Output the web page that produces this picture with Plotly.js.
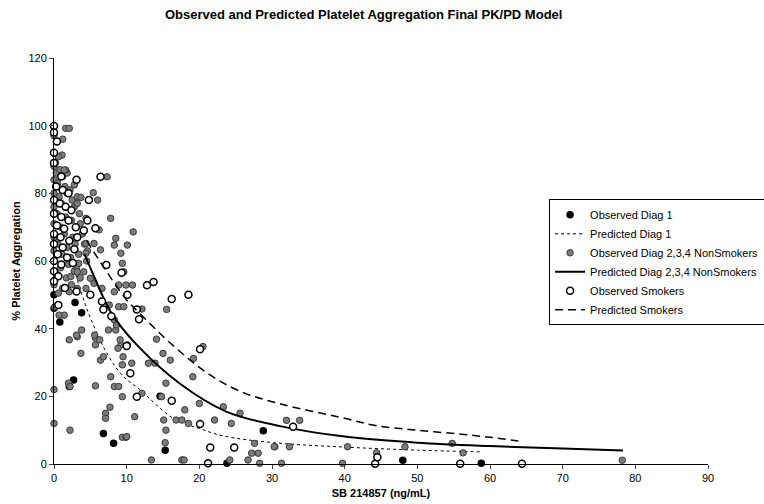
<!DOCTYPE html>
<html>
<head>
<meta charset="utf-8">
<script src="https://cdn.plot.ly/plotly-3.0.1.min.js"></script>
<style>html,body{margin:0;padding:0;background:#fff;}#chart{width:764px;height:504px;}</style>
</head>
<body>
<div id="chart"></div>
<script>
// Observed Diag 1 (black filled)
const diag1X = [0, 0, 0.8, 2.9, 3.8, 2.7, 2.1, 6.8, 8.2, 15.3, 14.6, 28.8, 23.8, 48, 58.8];
const diag1Y = [50, 46, 42, 47.7, 44.7, 24.8, 22.9, 9, 6.1, 4.1, 20, 9.8, 0.2, 1.1, 0.2];

// Predicted Diag 1 (dotted)
const predDiag1X = [3, 4.5, 7.2, 9.5, 11.8, 16.4, 20, 23.3, 30.2, 40, 50, 58.6];
const predDiag1Y = [56, 46, 33, 26, 22, 13.5, 10.5, 8.3, 6.3, 5.0, 4.1, 3.6];

// Observed Diag 2,3,4 NonSmokers (grey)
const nonsmX = [0,0.3,0.8,1.2,1.8,0,0.5,1.5,2.2,0,0.7,1.8,2.5,3.2,0,1,2.8,0.4,1.6,3.5,0,0.9,2.4,3.6,0,1.4,2.6,3.9,0.5,1.8,2.9,4.2,0,1.1,2.3,3.4,4.6,0,0.9,2,3.1,4.5,0.4,1.7,2.8,3.6,0,1.2,2.4,0.6,2.1,3.2,4.4,1.4,0.7,1.1,1.6,2.1,1.2,1.6,7.3,5.4,6,3.7,3.2,2.8,7.8,4.4,6.2,8.5,8.3,9.2,10.1,6.4,5.5,4.4,4.4,3.4,9.4,9.6,9.9,10.8,8.9,5,5.5,6.6,8.3,4.1,3.2,2.3,8.9,9.6,7.6,8.3,8.5,9.2,10.1,2.1,3.2,5.7,5.7,10.9,0,0,2.2,2,2.2,3.7,6.4,7.8,5.7,8.3,8.9,9.4,7.7,7.1,7.1,9.4,9.9,9.4,10.7,6.3,5.6,6.8,3.8,3.1,7.5,8.6,9.1,8.8,9.5,11.1,12.1,13,13.9,14.1,15,15.5,12.1,16,15.4,14.8,15.1,15.4,15.3,13.4,17.6,17.9,16.8,17.6,18.5,18,19.2,19.1,20.5,20,22.1,23.3,24.4,25.6,24.2,26.7,27.2,28.1,27.6,28.3,30.4,32,33.8,30.3,32.4,31.3,39.7,40.4,44.4,48.3,54.8,56.3,78.2,10,0.1,1.4,0.2,0,0.6];
const nonsmY = [88,86,87,85,86,84,83,82,81,80,79,80,78,79,76,77,76,74,73,74,71,70,72,71,67,68,67,68,65,64,65,65,63,62,61,62,63,60,58,59,58,60,56,55,57,55,53,52,53,50.5,50.9,51.9,51.9,44,44,91.3,99.2,99.2,96,86.9,84.9,80.2,78,78.8,77,82.5,72.6,72.6,69.2,66.7,64.7,62.3,64.7,63.3,65.2,65.2,62.3,59.3,59.3,56.8,52.9,52.9,52.9,54.9,53.4,51.9,50.9,56.8,56.8,55.4,46.5,46.5,47,42.6,39.6,35.2,35.2,36.7,37.6,37.2,35.2,68.6,22,12,10,23.9,22.9,32.7,30.7,25.8,23.1,22.9,22.9,19.9,16.8,15,13.5,7.9,7.9,29.3,29.8,36.7,38.1,31.7,39.6,38.1,39.6,41.1,36.7,34.2,31.7,14,20.9,29.8,29.8,36.9,32.7,45.7,45.8,30.7,23.9,19.9,13,10,6.3,1.2,1.2,1.2,13,13,12,16,31.2,25.8,34.7,17.9,13,16.9,12,15,1.2,1.2,3.2,3.2,6.1,0.2,5.1,12.9,12.9,5.1,5.1,0.2,0.2,5.1,3.3,5.1,6.1,3.3,1.1,8.1,46.5,86.9,89,97,90.8];

// Predicted Diag 2,3,4 NonSmokers (solid)
const predNonX = [4.2, 5.4, 7.9, 11.4, 17.3, 23.7, 31.1, 40, 50, 60, 70, 78.3];
const predNonY = [62, 56, 44.6, 35.2, 23.8, 15.5, 11.2, 8.1, 6.3, 5.3, 4.6, 4.0];

// Observed Smokers (open)
const smkX = [0,0,0.4,0,0,1,3.1,6.4,0.3,1.2,2,0,0.8,1.6,2.4,4.8,0,1,2,0.4,1.4,3,4.1,5.7,4.6,0,0.9,2.1,3.2,0,1.2,2.8,0.5,1.8,0,1,2.6,0,0.6,1.5,3.1,0,0.6,5,6.6,6.8,7.9,7.2,9.3,10.1,11.4,11.7,12.8,13.7,16.2,18.5,20.1,10,10.5,11.4,16.2,20.1,21.5,24.8,21.2,32.9,44.2,44.5,55.9,64.4];
const smkY = [99.9,98,95.3,92,89,85,84,84.9,82,81,80,78,77,76,75,78,74,73,72,70.5,69.5,70,69,69.7,72,68,67,66,67,65,64,63.5,62,61,60,59,59.4,57,55.5,52,51,54,47,50,48,45.7,43.7,58.8,56.5,50,45.7,42.8,52.8,53.8,48.8,50,33.9,34.9,26.8,19.9,18.7,11.8,4.9,4.9,0.2,11,0.1,2,0.1,0.1];

// Predicted Smokers (dashed)
const predSmkX = [4.5, 7.2, 10, 11.8, 16.4, 21, 25.6, 31.1, 40, 44.4, 50, 56, 60, 63.9];
const predSmkY = [66, 57, 48.5, 44.5, 35, 27, 21.5, 17.8, 13.5, 11.3, 10, 8.8, 7.9, 6.8];

const font = 'Liberation Sans, Arial, sans-serif';

const traces = [
  {x: diag1X, y: diag1Y, type: 'scatter', mode: 'markers', name: 'Observed Diag 1',
   marker: {color: '#000', size: 7.5, line: {width: 0}}, cliponaxis: false},
  {x: predDiag1X, y: predDiag1Y, type: 'scatter', mode: 'lines', name: 'Predicted Diag 1',
   line: {color: '#000', width: 1, dash: 'dot', shape: 'spline'}},
  {x: nonsmX, y: nonsmY, type: 'scatter', mode: 'markers', name: 'Observed Diag 2,3,4 NonSmokers',
   marker: {color: '#7c7c7c', size: 6.5, line: {color: '#3a3a3a', width: 1}}, cliponaxis: false},
  {x: predNonX, y: predNonY, type: 'scatter', mode: 'lines', name: 'Predicted Diag 2,3,4 NonSmokers',
   line: {color: '#000', width: 2, shape: 'spline'}},
  {x: smkX, y: smkY, type: 'scatter', mode: 'markers', name: 'Observed Smokers',
   marker: {color: '#fff', size: 7, line: {color: '#000', width: 1.5}}, cliponaxis: false},
  {x: predSmkX, y: predSmkY, type: 'scatter', mode: 'lines', name: 'Predicted Smokers',
   line: {color: '#000', width: 1.5, dash: '8px,5px', shape: 'spline'}}
];

const layout = {
  width: 764, height: 504,
  paper_bgcolor: '#fff', plot_bgcolor: '#fff',
  margin: {l: 54, r: 56, t: 58, b: 40, autoexpand: false},
  font: {family: font, size: 11, color: '#000'},
  title: {text: 'Observed and Predicted Platelet Aggregation Final PK/PD Model',
          font: {family: font, size: 13, color: '#000', weight: 'bold'},
          x: 0.476, xanchor: 'center', y: 0.972, yanchor: 'middle'},
  xaxis: {range: [0, 90], tickvals: [0,10,20,30,40,50,60,70,80,90], ticks: 'outside', ticklen: 4,
          showline: true, linecolor: '#000', linewidth: 1, showgrid: false, zeroline: false,
          tickfont: {size: 11}, title: {text: 'SB 214857 (ng/mL)', font: {size: 11, weight: 'bold'}, standoff: 6}},
  yaxis: {range: [0, 120], tickvals: [0,20,40,60,80,100,120], ticks: 'outside', ticklen: 4,
          showline: true, linecolor: '#000', linewidth: 1, showgrid: false, zeroline: false,
          tickfont: {size: 11}, title: {text: '% Platelet Aggregation', font: {size: 11, weight: 'bold'}, standoff: 5}},
  showlegend: true,
  legend: {x: 0.757, xanchor: 'left', y: 0.652, yanchor: 'top', bgcolor: '#fff',
           bordercolor: '#000', borderwidth: 1, font: {size: 11}, tracegroupgap: 0, itemwidth: 30}
};

Plotly.newPlot('chart', traces, layout, {staticPlot: true});
</script>
</body>
</html>
